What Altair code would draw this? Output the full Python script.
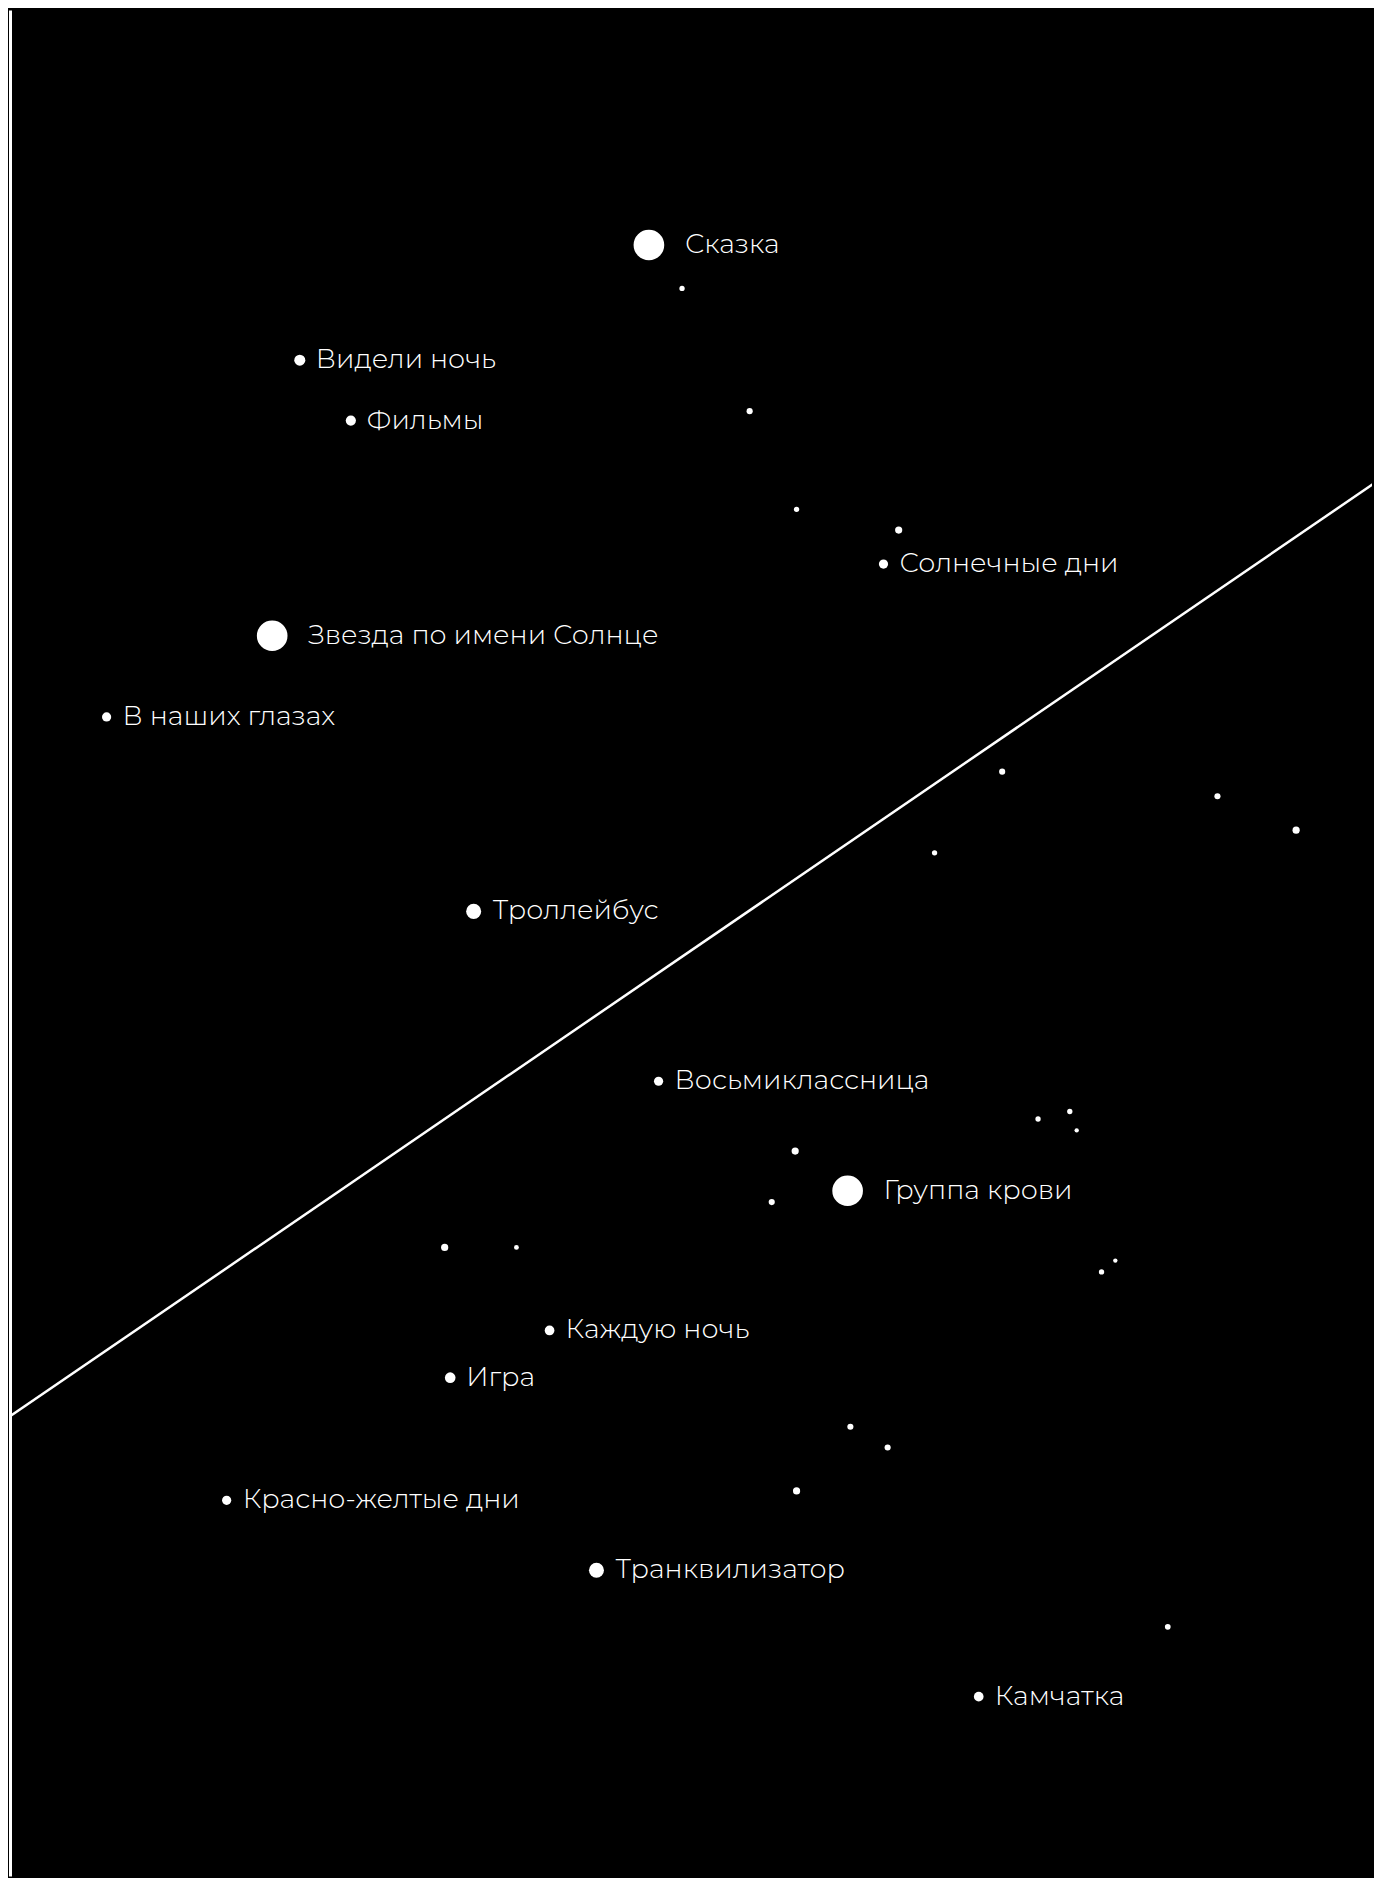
import altair as alt
import pandas as pd

# Song labels ("" = unlabelled point)
labels = [
    "Сказка", "", "Видели ночь", "Фильмы", "", "", "", "Солнечные дни",
    "Звезда по имени Солнце", "В наших глазах", "", "", "", "", "Троллейбус",
    "Восьмиклассница", "", "", "", "", "Группа крови", "", "", "", "", "",
    "Каждую ночь", "Игра", "", "", "Красно-желтые дни", "", "Транквилизатор",
    "", "Камчатка",
]
x_vals = [
    46.8, 49.2, 21.5, 25.2, 54.1, 57.5, 64.9, 63.8,
    19.5, 7.5, 72.4, 88.0, 93.7, 67.5, 34.1,
    47.5, 75.0, 77.3, 77.8, 57.4, 61.2, 55.7, 32.0, 37.2, 79.6, 80.6,
    39.6, 32.4, 61.4, 64.1, 16.2, 57.5, 43.0,
    84.4, 70.7,
]
y_vals = [
    87.3, 85.0, 81.2, 78.0, 78.5, 73.3, 72.2, 70.4,
    66.6, 62.3, 59.4, 58.1, 56.3, 55.1, 52.0,
    43.0, 41.0, 41.4, 40.4, 39.3, 37.2, 36.6, 34.2, 34.2, 32.9, 33.5,
    29.8, 27.3, 24.7, 23.6, 20.8, 21.3, 17.1,
    14.1, 10.4,
]
weights = [
    100, 3, 13, 11, 4, 3, 5.5, 9,
    100, 9, 4, 4, 5.5, 3, 24,
    9, 3, 3, 2, 5.5, 100, 4, 5.5, 2.5, 3, 2,
    10, 12, 4, 4, 9, 5.5, 24,
    3.5, 10,
]

# Trend line endpoints
trend_x = [0, 100]
trend_y = [25, 75]

df = pd.DataFrame({"label": labels, "x": x_vals, "y": y_vals, "weight": weights})
trend = pd.DataFrame({"x": trend_x, "y": trend_y})

X = alt.X("x:Q", scale=alt.Scale(domain=[0.5, 99.2], nice=False, zero=False), axis=None)
Y = alt.Y("y:Q", scale=alt.Scale(domain=[0.9, 99.75], nice=False, zero=False),
          axis=alt.Axis(domain=True, domainColor="white", domainWidth=3,
                        ticks=False, labels=False, grid=False, title=""))

points = alt.Chart(df).mark_circle(color="white", opacity=1).encode(
    x=X, y=Y,
    size=alt.Size("weight:Q", scale=alt.Scale(domain=[0, 100], range=[0, 940]), legend=None),
)

line = alt.Chart(trend).mark_line(color="white", strokeWidth=2.5, clip=True).encode(x=X, y=Y)

font = "Montserrat, Inter, sans-serif"

def text_layer(cond, dx):
    return alt.Chart(df).transform_filter(cond).mark_text(
        align="left", baseline="middle", dx=dx, font=font, fontSize=27,
        fontWeight=300, color="white",
    ).encode(x=X, y=Y, text="label:N")

texts_big = text_layer("datum.label != '' && datum.weight >= 50", 36)
texts_mid = text_layer("datum.label != '' && datum.weight >= 15 && datum.weight < 50", 19)
texts_small = text_layer("datum.label != '' && datum.weight < 15", 16)

chart = alt.layer(line, points, texts_big, texts_mid, texts_small).properties(
    width=1362, height=1866, background="black", padding=2,
).configure_view(strokeWidth=0)

chart.save("out.html", embed_options={"renderer": "svg", "actions": False})
